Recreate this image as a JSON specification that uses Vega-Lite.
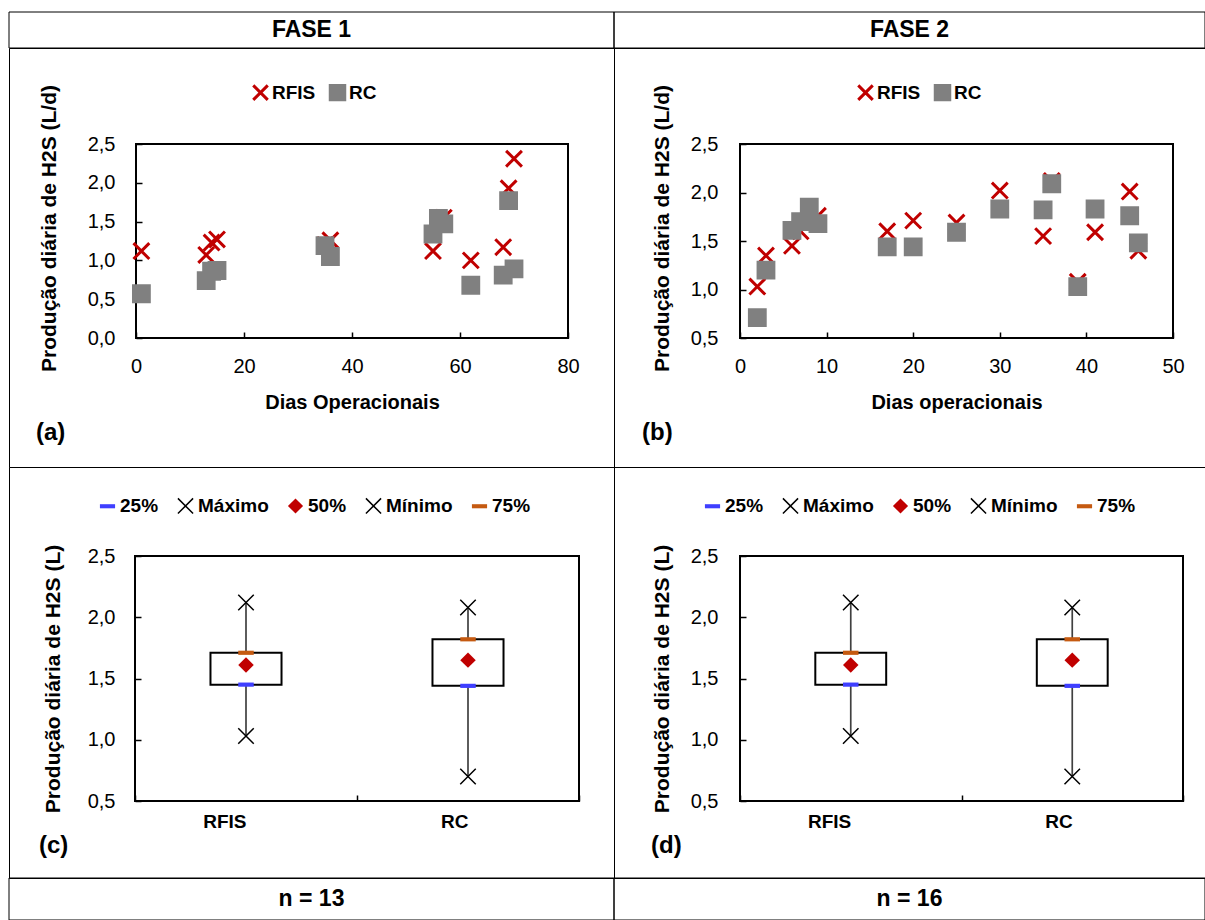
{
  "$schema": "https://vega.github.io/schema/vega-lite/v6.json",
  "background": "white",
  "padding": {"left": 8, "top": 11, "right": 0, "bottom": 0},
  "spacing": 0,
  "bounds": "flush",
  "columns": 2,
  "resolve": {
    "scale": {"shape": "independent", "fill": "independent", "stroke": "independent"},
    "legend": {"shape": "independent", "fill": "independent", "stroke": "independent"}
  },
  "config": {
    "locale": {"number": {"decimal": ",", "thousands": ".", "grouping": [3], "currency": ["", ""]}},
    "view": {"stroke": "black", "strokeWidth": 1},
    "font": "Liberation Sans",
    "axis": {
      "labelFont": "Liberation Sans", "labelFontSize": 20, "labelColor": "black",
      "titleFont": "Liberation Sans", "titleFontSize": 20, "titleFontWeight": "bold", "titleColor": "black",
      "tickColor": "black", "tickWidth": 1.5, "domain": false, "grid": false, "labelFlush": false
    },
    "legend": {"labelFont": "Liberation Sans", "labelColor": "black"},
    "title": {"font": "Liberation Sans", "color": "black"}
  },
  "datasets": {
    "fase1": [
      {"dia": 1, "producao": 1.12, "reator": "RFIS"},
      {"dia": 13, "producao": 1.07, "reator": "RFIS"},
      {"dia": 14, "producao": 1.23, "reator": "RFIS"},
      {"dia": 15, "producao": 1.27, "reator": "RFIS"},
      {"dia": 35, "producao": 1.2, "reator": "RFIS"},
      {"dia": 36, "producao": 1.26, "reator": "RFIS"},
      {"dia": 55, "producao": 1.12, "reator": "RFIS"},
      {"dia": 56, "producao": 1.5, "reator": "RFIS"},
      {"dia": 57, "producao": 1.55, "reator": "RFIS"},
      {"dia": 62, "producao": 1.0, "reator": "RFIS"},
      {"dia": 68, "producao": 1.17, "reator": "RFIS"},
      {"dia": 69, "producao": 1.93, "reator": "RFIS"},
      {"dia": 70, "producao": 2.31, "reator": "RFIS"},
      {"dia": 1, "producao": 0.57, "reator": "RC"},
      {"dia": 13, "producao": 0.74, "reator": "RC"},
      {"dia": 14, "producao": 0.86, "reator": "RC"},
      {"dia": 15, "producao": 0.87, "reator": "RC"},
      {"dia": 35, "producao": 1.19, "reator": "RC"},
      {"dia": 36, "producao": 1.05, "reator": "RC"},
      {"dia": 55, "producao": 1.34, "reator": "RC"},
      {"dia": 56, "producao": 1.54, "reator": "RC"},
      {"dia": 57, "producao": 1.47, "reator": "RC"},
      {"dia": 62, "producao": 0.68, "reator": "RC"},
      {"dia": 68, "producao": 0.81, "reator": "RC"},
      {"dia": 69, "producao": 1.77, "reator": "RC"},
      {"dia": 70, "producao": 0.89, "reator": "RC"}
    ],
    "fase2": [
      {"dia": 2, "producao": 1.03, "reator": "RFIS"},
      {"dia": 3, "producao": 1.35, "reator": "RFIS"},
      {"dia": 6, "producao": 1.45, "reator": "RFIS"},
      {"dia": 7, "producao": 1.6, "reator": "RFIS"},
      {"dia": 8, "producao": 1.72, "reator": "RFIS"},
      {"dia": 9, "producao": 1.76, "reator": "RFIS"},
      {"dia": 17, "producao": 1.6, "reator": "RFIS"},
      {"dia": 20, "producao": 1.71, "reator": "RFIS"},
      {"dia": 25, "producao": 1.69, "reator": "RFIS"},
      {"dia": 30, "producao": 2.02, "reator": "RFIS"},
      {"dia": 35, "producao": 1.55, "reator": "RFIS"},
      {"dia": 36, "producao": 2.12, "reator": "RFIS"},
      {"dia": 39, "producao": 1.08, "reator": "RFIS"},
      {"dia": 41, "producao": 1.59, "reator": "RFIS"},
      {"dia": 45, "producao": 2.01, "reator": "RFIS"},
      {"dia": 46, "producao": 1.4, "reator": "RFIS"},
      {"dia": 2, "producao": 0.71, "reator": "RC"},
      {"dia": 3, "producao": 1.2, "reator": "RC"},
      {"dia": 6, "producao": 1.61, "reator": "RC"},
      {"dia": 7, "producao": 1.7, "reator": "RC"},
      {"dia": 8, "producao": 1.85, "reator": "RC"},
      {"dia": 9, "producao": 1.68, "reator": "RC"},
      {"dia": 17, "producao": 1.44, "reator": "RC"},
      {"dia": 20, "producao": 1.44, "reator": "RC"},
      {"dia": 25, "producao": 1.59, "reator": "RC"},
      {"dia": 30, "producao": 1.83, "reator": "RC"},
      {"dia": 35, "producao": 1.82, "reator": "RC"},
      {"dia": 36, "producao": 2.09, "reator": "RC"},
      {"dia": 39, "producao": 1.03, "reator": "RC"},
      {"dia": 41, "producao": 1.83, "reator": "RC"},
      {"dia": 45, "producao": 1.76, "reator": "RC"},
      {"dia": 46, "producao": 1.48, "reator": "RC"}
    ],
    "caixa": [
      {"grupo": "RFIS", "Mínimo": 1.03, "25%": 1.45, "50%": 1.61, "75%": 1.71, "Máximo": 2.12},
      {"grupo": "RC", "Mínimo": 0.7, "25%": 1.44, "50%": 1.65, "75%": 1.82, "Máximo": 2.08}
    ]
  },
  "concat": [
    {"width": 605, "height": 36, "data": {"values": [{"t": "FASE 1"}]},
     "layer": [
       {"mark": {"type": "rect", "fill": "transparent", "stroke": "black", "strokeWidth": 1}, "encoding": {}},
       {"mark": {"type": "text", "fontSize": 23, "fontWeight": "bold", "font": "Liberation Sans", "color": "black"}, "encoding": {"text": {"field": "t"}}}
     ]},
    {"width": 591, "height": 36, "data": {"values": [{"t": "FASE 2"}]},
     "layer": [
       {"mark": {"type": "rect", "fill": "transparent", "stroke": "black", "strokeWidth": 1}, "encoding": {}},
       {"mark": {"type": "text", "fontSize": 23, "fontWeight": "bold", "font": "Liberation Sans", "color": "black"}, "encoding": {"text": {"field": "t"}}}
     ]},
    {
      "width": 605, "height": 419,
      "title": {"text": "(a)", "orient": "bottom", "anchor": "start", "frame": "group", "offset": -46, "dx": 27, "fontSize": 24, "fontWeight": "bold"},
      "layer": [
        {
          "data": {"values": [{}]},
          "mark": {"type": "rect", "fill": "transparent", "stroke": "black", "strokeWidth": 2},
          "encoding": {
            "x": {"datum": 0, "type": "quantitative", "scale": {"domain": [0, 80], "range": [127, 559], "nice": false, "zero": false}},
            "x2": {"datum": 80},
            "y": {"datum": 0, "type": "quantitative", "scale": {"domain": [0, 2.5], "range": [290, 96], "nice": false, "zero": false}},
            "y2": {"datum": 2.5}
          }
        },
        {
          "data": {"name": "fase1"},
          "mark": {"type": "point", "size": 250, "strokeWidth": 3, "opacity": 1},
          "encoding": {
            "x": {"field": "dia", "type": "quantitative",
                  "scale": {"domain": [0, 80], "range": [127, 559], "nice": false, "zero": false},
                  "axis": {"orient": "bottom", "offset": -129, "values": [0, 20, 40, 60, 80], "tickSize": -6, "labelPadding": 24, "title": "Dias Operacionais", "titlePadding": 16}},
            "y": {"field": "producao", "type": "quantitative",
                  "scale": {"domain": [0, 2.5], "range": [290, 96], "nice": false, "zero": false},
                  "axis": {"orient": "left", "offset": -127, "values": [0, 0.5, 1, 1.5, 2, 2.5], "format": ".1f", "tickSize": -6, "labelPadding": 27, "title": "Produção diária de H2S (L/d)", "titleFontSize": 21, "titlePadding": 28, "titleY": 180}},
            "shape": {"field": "reator", "type": "nominal", "scale": {"domain": ["RFIS", "RC"], "range": ["M-1,-1L1,1M-1,1L1,-1", "square"]},
                      "legend": {"orient": "none", "legendX": 242, "legendY": 35, "direction": "horizontal", "title": null, "padding": 0, "columnPadding": 8, "labelFontSize": 19, "labelFontWeight": "bold", "symbolSize": 210, "symbolStrokeWidth": 3, "labelOffset": 2}},
            "stroke": {"field": "reator", "type": "nominal", "scale": {"domain": ["RFIS", "RC"], "range": ["#C00000", "#808080"]},
                      "legend": {"orient": "none", "legendX": 242, "legendY": 35, "direction": "horizontal", "title": null, "padding": 0, "columnPadding": 8, "labelFontSize": 19, "labelFontWeight": "bold", "symbolSize": 210, "symbolStrokeWidth": 3, "labelOffset": 2}},
            "fill": {"field": "reator", "type": "nominal", "scale": {"domain": ["RFIS", "RC"], "range": ["transparent", "#808080"]},
                      "legend": {"orient": "none", "legendX": 242, "legendY": 35, "direction": "horizontal", "title": null, "padding": 0, "columnPadding": 8, "labelFontSize": 19, "labelFontWeight": "bold", "symbolSize": 210, "symbolStrokeWidth": 3, "labelOffset": 2}}
          }
        }
      ]
    },
    {
      "width": 591, "height": 419,
      "title": {"text": "(b)", "orient": "bottom", "anchor": "start", "frame": "group", "offset": -46, "dx": 28, "fontSize": 24, "fontWeight": "bold"},
      "layer": [
        {
          "data": {"values": [{}]},
          "mark": {"type": "rect", "fill": "transparent", "stroke": "black", "strokeWidth": 2},
          "encoding": {
            "x": {"datum": 0, "type": "quantitative", "scale": {"domain": [0, 50], "range": [126, 559], "nice": false, "zero": false}},
            "x2": {"datum": 50},
            "y": {"datum": 0.5, "type": "quantitative", "scale": {"domain": [0.5, 2.5], "range": [290, 96], "nice": false, "zero": false}},
            "y2": {"datum": 2.5}
          }
        },
        {
          "data": {"name": "fase2"},
          "mark": {"type": "point", "size": 250, "strokeWidth": 3, "opacity": 1},
          "encoding": {
            "x": {"field": "dia", "type": "quantitative",
                  "scale": {"domain": [0, 50], "range": [126, 559], "nice": false, "zero": false},
                  "axis": {"orient": "bottom", "offset": -129, "values": [0, 10, 20, 30, 40, 50], "tickSize": -6, "labelPadding": 24, "title": "Dias operacionais", "titlePadding": 16}},
            "y": {"field": "producao", "type": "quantitative",
                  "scale": {"domain": [0.5, 2.5], "range": [290, 96], "nice": false, "zero": false},
                  "axis": {"orient": "left", "offset": -126, "values": [0.5, 1, 1.5, 2, 2.5], "format": ".1f", "tickSize": -6, "labelPadding": 28, "title": "Produção diária de H2S (L/d)", "titleFontSize": 21, "titlePadding": 18, "titleY": 180}},
            "shape": {"field": "reator", "type": "nominal", "scale": {"domain": ["RFIS", "RC"], "range": ["M-1,-1L1,1M-1,1L1,-1", "square"]},
                      "legend": {"orient": "none", "legendX": 242, "legendY": 35, "direction": "horizontal", "title": null, "padding": 0, "columnPadding": 8, "labelFontSize": 19, "labelFontWeight": "bold", "symbolSize": 210, "symbolStrokeWidth": 3, "labelOffset": 2}},
            "stroke": {"field": "reator", "type": "nominal", "scale": {"domain": ["RFIS", "RC"], "range": ["#C00000", "#808080"]},
                      "legend": {"orient": "none", "legendX": 242, "legendY": 35, "direction": "horizontal", "title": null, "padding": 0, "columnPadding": 8, "labelFontSize": 19, "labelFontWeight": "bold", "symbolSize": 210, "symbolStrokeWidth": 3, "labelOffset": 2}},
            "fill": {"field": "reator", "type": "nominal", "scale": {"domain": ["RFIS", "RC"], "range": ["transparent", "#808080"]},
                      "legend": {"orient": "none", "legendX": 242, "legendY": 35, "direction": "horizontal", "title": null, "padding": 0, "columnPadding": 8, "labelFontSize": 19, "labelFontWeight": "bold", "symbolSize": 210, "symbolStrokeWidth": 3, "labelOffset": 2}}
          }
        }
      ]
    },
    {
      "width": 605, "height": 411,
      "title": {"text": "(c)", "orient": "bottom", "anchor": "start", "frame": "group", "offset": -44, "dx": 30, "fontSize": 24, "fontWeight": "bold"},
      "data": {"name": "caixa"},
      "layer": [
        {
          "data": {"values": [{}]},
          "mark": {"type": "rect", "fill": "transparent", "stroke": "black", "strokeWidth": 2},
          "encoding": {
            "x": {"datum": "RFIS", "type": "nominal", "bandPosition": 0, "scale": {"type": "band", "domain": ["RFIS", "RC"], "range": [126, 570], "paddingInner": 0, "paddingOuter": 0}},
            "x2": {"datum": "RC", "bandPosition": 1},
            "y": {"datum": 0.5, "type": "quantitative", "scale": {"domain": [0.5, 2.5], "range": [334, 89], "nice": false, "zero": false}},
            "y2": {"datum": 2.5}
          }
        },
        {
          "mark": {"type": "rule", "stroke": "#404040", "strokeWidth": 1.7},
          "encoding": {
            "x": {"field": "grupo", "type": "nominal", "scale": {"type": "band", "domain": ["RFIS", "RC"], "range": [126, 570], "paddingInner": 0, "paddingOuter": 0},
                  "axis": {"orient": "bottom", "offset": -77, "tickBand": "extent", "tickSize": -6, "labelPadding": 26, "labelAngle": 0, "labelFontWeight": "bold", "labelFontSize": 19, "title": null}},
            "y": {"field": "Mínimo", "type": "quantitative", "scale": {"domain": [0.5, 2.5], "range": [334, 89], "nice": false, "zero": false},
                  "axis": {"orient": "left", "offset": -126, "values": [0.5, 1, 1.5, 2, 2.5], "format": ".1f", "tickSize": -6, "labelPadding": 26, "title": "Produção diária de H2S (L)", "titleFontSize": 21, "titlePadding": 24}},
            "y2": {"field": "Máximo"}
          }
        },
        {
          "mark": {"type": "bar", "fill": "white", "stroke": "black", "strokeWidth": 2, "width": {"band": 0.32}},
          "encoding": {
            "x": {"field": "grupo", "type": "nominal"},
            "y": {"field": "25%", "type": "quantitative"},
            "y2": {"field": "75%"}
          }
        },
        {
          "transform": [{"fold": ["25%", "Máximo", "50%", "Mínimo", "75%"], "as": ["estat", "valor"]}],
          "mark": {"type": "point", "size": 240, "strokeWidth": 1.5, "opacity": 1},
          "encoding": {
            "x": {"field": "grupo", "type": "nominal"},
            "y": {"field": "valor", "type": "quantitative"},
            "shape": {"field": "estat", "type": "nominal", "scale": {"domain": ["25%", "Máximo", "50%", "Mínimo", "75%"], "range": ["M-1,-0.27L1,-0.27L1,0.27L-1,0.27Z", "M-1,-1L1,1M-1,1L1,-1", "diamond", "M-1,-1L1,1M-1,1L1,-1", "M-1,-0.27L1,-0.27L1,0.27L-1,0.27Z"]},
                      "legend": {"orient": "none", "legendX": 89, "legendY": 29, "direction": "horizontal", "title": null, "padding": 0, "columnPadding": 15, "labelFontSize": 19, "labelFontWeight": "bold", "symbolSize": 230, "symbolStrokeWidth": 1.5, "labelOffset": 3}},
            "fill": {"field": "estat", "type": "nominal", "scale": {"domain": ["25%", "Máximo", "50%", "Mínimo", "75%"], "range": ["#3F3FFF", "transparent", "#C00000", "transparent", "#C55A11"]},
                      "legend": {"orient": "none", "legendX": 89, "legendY": 29, "direction": "horizontal", "title": null, "padding": 0, "columnPadding": 15, "labelFontSize": 19, "labelFontWeight": "bold", "symbolSize": 230, "symbolStrokeWidth": 1.5, "labelOffset": 3}},
            "stroke": {"field": "estat", "type": "nominal", "scale": {"domain": ["25%", "Máximo", "50%", "Mínimo", "75%"], "range": ["transparent", "black", "transparent", "black", "transparent"]},
                      "legend": {"orient": "none", "legendX": 89, "legendY": 29, "direction": "horizontal", "title": null, "padding": 0, "columnPadding": 15, "labelFontSize": 19, "labelFontWeight": "bold", "symbolSize": 230, "symbolStrokeWidth": 1.5, "labelOffset": 3}}
          }
        }
      ]
    },
    {
      "width": 591, "height": 411,
      "title": {"text": "(d)", "orient": "bottom", "anchor": "start", "frame": "group", "offset": -44, "dx": 37, "fontSize": 24, "fontWeight": "bold"},
      "data": {"name": "caixa"},
      "layer": [
        {
          "data": {"values": [{}]},
          "mark": {"type": "rect", "fill": "transparent", "stroke": "black", "strokeWidth": 2},
          "encoding": {
            "x": {"datum": "RFIS", "type": "nominal", "bandPosition": 0, "scale": {"type": "band", "domain": ["RFIS", "RC"], "range": [126, 569], "paddingInner": 0, "paddingOuter": 0}},
            "x2": {"datum": "RC", "bandPosition": 1},
            "y": {"datum": 0.5, "type": "quantitative", "scale": {"domain": [0.5, 2.5], "range": [334, 89], "nice": false, "zero": false}},
            "y2": {"datum": 2.5}
          }
        },
        {
          "mark": {"type": "rule", "stroke": "#404040", "strokeWidth": 1.7},
          "encoding": {
            "x": {"field": "grupo", "type": "nominal", "scale": {"type": "band", "domain": ["RFIS", "RC"], "range": [126, 569], "paddingInner": 0, "paddingOuter": 0},
                  "axis": {"orient": "bottom", "offset": -77, "tickBand": "extent", "tickSize": -6, "labelPadding": 26, "labelAngle": 0, "labelFontWeight": "bold", "labelFontSize": 19, "title": null}},
            "y": {"field": "Mínimo", "type": "quantitative", "scale": {"domain": [0.5, 2.5], "range": [334, 89], "nice": false, "zero": false},
                  "axis": {"orient": "left", "offset": -126, "values": [0.5, 1, 1.5, 2, 2.5], "format": ".1f", "tickSize": -6, "labelPadding": 28, "title": "Produção diária de H2S (L)", "titleFontSize": 21, "titlePadding": 18}},
            "y2": {"field": "Máximo"}
          }
        },
        {
          "mark": {"type": "bar", "fill": "white", "stroke": "black", "strokeWidth": 2, "width": {"band": 0.32}},
          "encoding": {
            "x": {"field": "grupo", "type": "nominal"},
            "y": {"field": "25%", "type": "quantitative"},
            "y2": {"field": "75%"}
          }
        },
        {
          "transform": [{"fold": ["25%", "Máximo", "50%", "Mínimo", "75%"], "as": ["estat", "valor"]}],
          "mark": {"type": "point", "size": 240, "strokeWidth": 1.5, "opacity": 1},
          "encoding": {
            "x": {"field": "grupo", "type": "nominal"},
            "y": {"field": "valor", "type": "quantitative"},
            "shape": {"field": "estat", "type": "nominal", "scale": {"domain": ["25%", "Máximo", "50%", "Mínimo", "75%"], "range": ["M-1,-0.27L1,-0.27L1,0.27L-1,0.27Z", "M-1,-1L1,1M-1,1L1,-1", "diamond", "M-1,-1L1,1M-1,1L1,-1", "M-1,-0.27L1,-0.27L1,0.27L-1,0.27Z"]},
                      "legend": {"orient": "none", "legendX": 89, "legendY": 29, "direction": "horizontal", "title": null, "padding": 0, "columnPadding": 15, "labelFontSize": 19, "labelFontWeight": "bold", "symbolSize": 230, "symbolStrokeWidth": 1.5, "labelOffset": 3}},
            "fill": {"field": "estat", "type": "nominal", "scale": {"domain": ["25%", "Máximo", "50%", "Mínimo", "75%"], "range": ["#3F3FFF", "transparent", "#C00000", "transparent", "#C55A11"]},
                      "legend": {"orient": "none", "legendX": 89, "legendY": 29, "direction": "horizontal", "title": null, "padding": 0, "columnPadding": 15, "labelFontSize": 19, "labelFontWeight": "bold", "symbolSize": 230, "symbolStrokeWidth": 1.5, "labelOffset": 3}},
            "stroke": {"field": "estat", "type": "nominal", "scale": {"domain": ["25%", "Máximo", "50%", "Mínimo", "75%"], "range": ["transparent", "black", "transparent", "black", "transparent"]},
                      "legend": {"orient": "none", "legendX": 89, "legendY": 29, "direction": "horizontal", "title": null, "padding": 0, "columnPadding": 15, "labelFontSize": 19, "labelFontWeight": "bold", "symbolSize": 230, "symbolStrokeWidth": 1.5, "labelOffset": 3}}
          }
        }
      ]
    },
    {"width": 605, "height": 42, "data": {"values": [{"t": "n = 13"}]},
     "layer": [
       {"mark": {"type": "rect", "fill": "transparent", "stroke": "black", "strokeWidth": 1}, "encoding": {}},
       {"mark": {"type": "text", "fontSize": 23, "fontWeight": "bold", "font": "Liberation Sans", "color": "black"}, "encoding": {"text": {"field": "t"}}}
     ]},
    {"width": 591, "height": 42, "data": {"values": [{"t": "n = 16"}]},
     "layer": [
       {"mark": {"type": "rect", "fill": "transparent", "stroke": "black", "strokeWidth": 1}, "encoding": {}},
       {"mark": {"type": "text", "fontSize": 23, "fontWeight": "bold", "font": "Liberation Sans", "color": "black"}, "encoding": {"text": {"field": "t"}}}
     ]}
  ]
}
